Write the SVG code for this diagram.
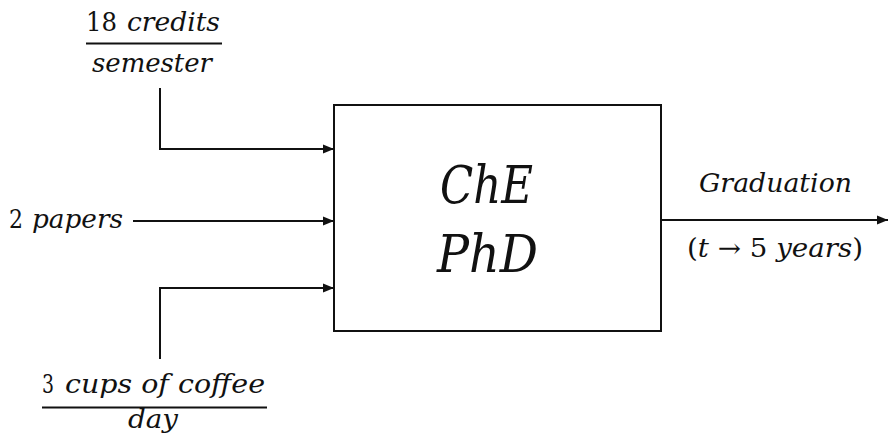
<svg xmlns="http://www.w3.org/2000/svg" width="888" height="440" viewBox="0 0 888 440">
  <style>
    .t { font-family: "DejaVu Serif", "Liberation Serif", serif; fill: #111; }
    .i { font-style: italic; }
    .s { font-size: 26px; }
    .big { font-size: 53px; font-style: italic; }
    .ln { stroke: #111; stroke-width: 2; fill: none; }
    .bar { stroke: #111; stroke-width: 2; }
  </style>
  <defs>
    <marker id="arr" viewBox="0 0 10 10" refX="10" refY="5" markerWidth="5.5" markerHeight="5.5" orient="auto" markerUnits="strokeWidth">
      <path d="M0,1 L10,5 L0,9 z" fill="#111"/>
    </marker>
  </defs>
  <rect width="888" height="440" fill="#fff"/>

  <!-- process block -->
  <g id="process">
    <rect x="334" y="105" width="327" height="226" fill="#fff" stroke="#111" stroke-width="2"/>
    <text class="t big" x="440" y="203" textLength="93" lengthAdjust="spacingAndGlyphs">ChE</text>
    <text class="t big" x="437" y="272" textLength="101" lengthAdjust="spacingAndGlyphs">PhD</text>
  </g>

  <!-- input: credits per semester -->
  <g id="in-credits">
    <text class="t s" x="86" y="31" textLength="31" lengthAdjust="spacingAndGlyphs">18</text>
    <text class="t s i" x="127" y="31" textLength="93" lengthAdjust="spacingAndGlyphs">credits</text>
    <line class="bar" x1="86" y1="43.5" x2="222" y2="43.5"/>
    <text class="t s i" x="92" y="72" textLength="120" lengthAdjust="spacingAndGlyphs">semester</text>
  </g>

  <!-- input: papers -->
  <g id="in-papers">
    <text class="t s" x="9" y="228" textLength="14" lengthAdjust="spacingAndGlyphs">2</text>
    <text class="t s i" x="32" y="228" textLength="91" lengthAdjust="spacingAndGlyphs">papers</text>
  </g>

  <!-- input: coffee per day -->
  <g id="in-coffee">
    <text class="t s" x="42" y="393" textLength="12" lengthAdjust="spacingAndGlyphs">3</text>
    <text class="t s i" x="65" y="393" textLength="200" lengthAdjust="spacingAndGlyphs">cups of coffee</text>
    <line class="bar" x1="42" y1="407.5" x2="267" y2="407.5"/>
    <text class="t s i" x="128" y="428" textLength="50" lengthAdjust="spacingAndGlyphs">day</text>
  </g>

  <!-- output: graduation -->
  <g id="out-graduation">
    <text class="t s i" x="699" y="192" textLength="153" lengthAdjust="spacingAndGlyphs">Graduation</text>
    <text class="t s" x="687" y="257" textLength="176" lengthAdjust="spacingAndGlyphs">(<tspan class="i">t</tspan> → 5 <tspan class="i">years</tspan>)</text>
  </g>

  <!-- connectors -->
  <g id="connectors">
    <polyline class="ln" points="160,88 160,149 334,149" marker-end="url(#arr)"/>
    <line class="ln" x1="133" y1="221" x2="334" y2="221" marker-end="url(#arr)"/>
    <polyline class="ln" points="160,359 160,288 334,288" marker-end="url(#arr)"/>
    <line class="ln" x1="661" y1="220" x2="888" y2="220" marker-end="url(#arr)"/>
  </g>
</svg>
